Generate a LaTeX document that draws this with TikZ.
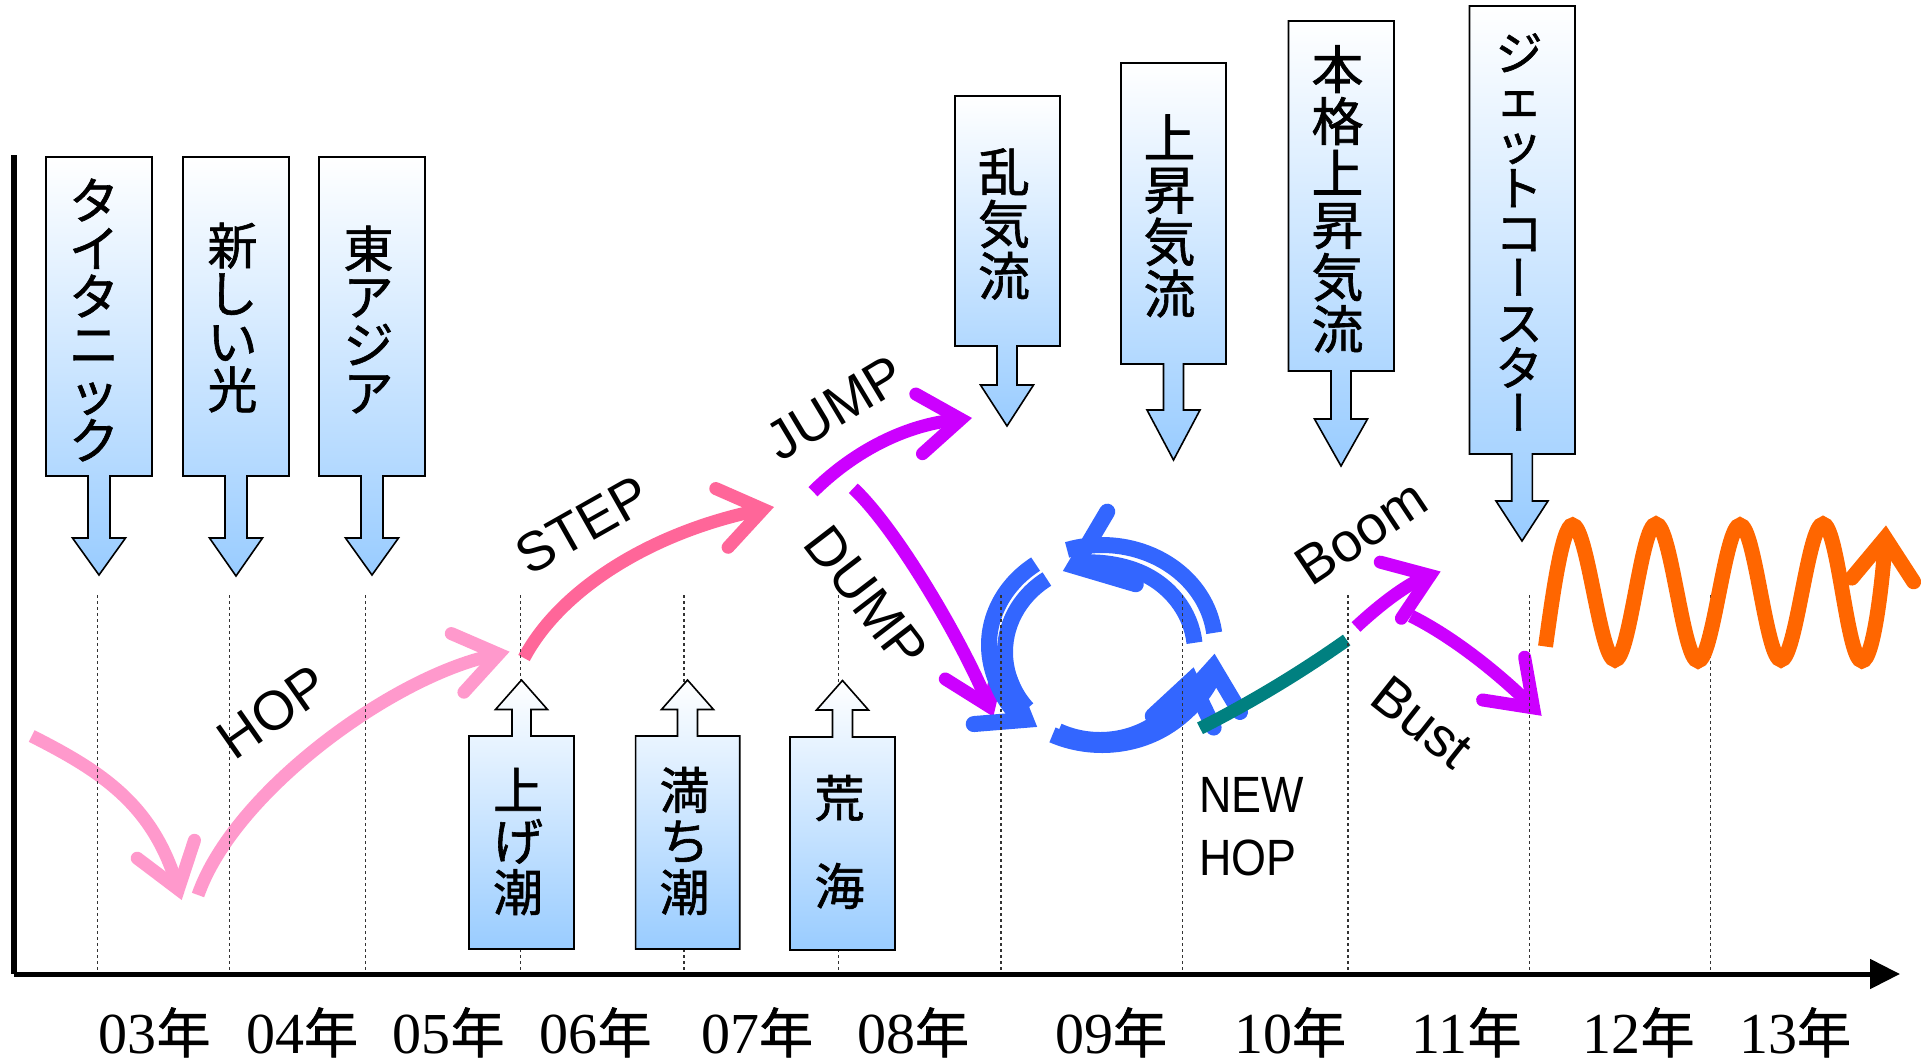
\documentclass[tikz,border=0pt]{standalone}
\usepackage{fontspec}
\setmainfont{Liberation Sans}
\newfontfamily\jp{Noto Sans CJK JP}[FakeBold=1.2]
\newfontfamily\jpv{Noto Sans CJK JP}[RawFeature=+vert,FakeBold=1.2]
\newfontfamily\tms{Liberation Serif}
\newfontfamily\nsans{Liberation Sans}[FakeStretch=0.88]
\newcommand\nenfont{\jp\fontsize{54}{54}\selectfont}
\usetikzlibrary{arrows.meta,calc}
\definecolor{hoppink}{HTML}{FF99CC}
\definecolor{steppink}{HTML}{FF6699}
\definecolor{jumpvio}{HTML}{CC00FF}
\definecolor{cycblue}{HTML}{3366FF}
\definecolor{newteal}{HTML}{008080}
\definecolor{waveor}{HTML}{FF6600}
\definecolor{calblue}{HTML}{99CCFF}
% down callout: x1,x2,ytop,ybox,xtip,halfshaft,yhead,halfhead,ytip
\newcommand\dncall[9]{\path[callout] (#1,#3) -- (#2,#3) -- (#2,#4) -- ({#5+#6},#4) -- ({#5+#6},#7) -- ({#5+#8},#7) -- (#5,#9) -- ({#5-#8},#7) -- ({#5-#6},#7) -- ({#5-#6},#4) -- (#1,#4) -- cycle;}
% up callout: x1,x2,ybox top,ybottom,xtip,halfshaft,yhead,halfhead,ytip
\newcommand\upcall[9]{\path[callout] (#1,#3) -- ({#5-#6},#3) -- ({#5-#6},#7) -- ({#5-#8},#7) -- (#5,#9) -- ({#5+#8},#7) -- ({#5+#6},#7) -- ({#5+#6},#3) -- (#2,#3) -- (#2,#4) -- (#1,#4) -- cycle;}
\begin{document}
\begin{tikzpicture}[x=1pt,y=-1pt,
  callout/.style={draw=black,line width=1.6,top color=white,bottom color=calblue},
  vA/.style={align=center,inner sep=0,font=\jp\fontsize{50}{48}\selectfont},
  vB/.style={align=center,inner sep=0,font=\jp\fontsize{52}{52}\selectfont},
  vC/.style={align=center,inner sep=0,font=\jp\fontsize{47}{45}\selectfont},
  vD/.style={align=center,inner sep=0,font=\jp\fontsize{50}{51}\selectfont},
  lab/.style={inner sep=0,font=\fontsize{55}{55}\selectfont},
  nlab/.style={inner sep=0,font=\nsans\fontsize{51}{51}\selectfont},
  yr/.style={inner sep=0,anchor=base,font=\tms\fontsize{58}{58}\selectfont},
  gridl/.style={draw=black!80,line width=1.2,dash pattern=on 3pt off 3pt},
  thk/.style={line width=13,-{Straight Barb[length=42pt,width=60pt,line cap=round,line join=miter]}},
  cyc/.style={draw=cycblue,line width=16,-{Straight Barb[length=42pt,width=62pt,line cap=round,line join=miter]}},
  cycbig/.style={draw=cycblue,line width=16,-{Straight Barb[length=50pt,width=78pt,line cap=round,line join=miter]}},
  cycplain/.style={draw=cycblue,line width=16},
]
\useasboundingbox (0,0) rectangle (1921,1063);

% axes
\coordinate (ax0) at (13.8,155);
\coordinate (ax1) at (13.8,974);
\coordinate (ax2) at (1900,974);
\draw[line width=5.5] (ax0) -- (ax1);
\draw[line width=5,-{Triangle[length=30pt,width=29pt]}] (ax1) -- (ax2);

% HOP arrows
\coordinate (hd0) at (31.7,736);
\coordinate (hd1) at (181.7,900);
\draw[thk,hoppink] (hd0) .. controls (103,772) and (152,805) .. (hd1);
\coordinate (hu0) at (198,895);
\coordinate (hu1) at (509.6,651.7);
\draw[thk,hoppink] (hu0) .. controls (234,792) and (392,677) .. (hu1);
% STEP
\coordinate (st0) at (524,658);
\coordinate (st1) at (774,507);
\draw[thk,steppink] (st0) .. controls (560,590) and (650,533) .. (st1);
% JUMP
\coordinate (ju0) at (813,491.7);
\coordinate (ju1) at (972,418);
\draw[thk,jumpvio] (ju0) .. controls (850,455) and (900,426) .. (ju1);
% DUMP
\coordinate (du0) at (853.3,488.3);
\coordinate (du1) at (993.3,716.7);
\draw[thk,jumpvio] (du0) .. controls (897,529) and (962.8,642.7) .. (du1);

% circular arrows
\coordinate (co) at (1102,645);
\coordinate (ci) at (1100,652);
\draw[cycplain] ([shift={(-7:113 and 100)}]co) arc[start angle=-7,end angle=-108,x radius=113,y radius=100];
\draw[cyc] ([shift={(-126:113 and 100)}]co) arc[start angle=-126,end angle=-235,x radius=113,y radius=100];
\draw[cyc] ([shift={(116:113 and 100)}]co) arc[start angle=116,end angle=5,x radius=113,y radius=100];
\draw[cycbig] ([shift={(-6:95 and 88)}]ci) arc[start angle=-6,end angle=-113,x radius=95,y radius=88];
\draw[cycplain] ([shift={(-124:95 and 88)}]ci) arc[start angle=-124,end angle=-220,x radius=95,y radius=88];
\draw[cyc] ([shift={(116:95 and 88)}]ci) arc[start angle=116,end angle=10,x radius=95,y radius=88];

% NEW HOP line
\coordinate (nh0) at (1200,728.3);
\coordinate (nh1) at (1346.7,640);
\draw[newteal,line width=13] (nh0) .. controls (1250,703) and (1300,673) .. (nh1);
% Boom / Bust
\coordinate (bo0) at (1356,627);
\coordinate (bo1) at (1440.6,571.5);
\draw[thk,jumpvio] (bo0) .. controls (1385,600) and (1410,583) .. (bo1);
\coordinate (bu0) at (1411,616);
\coordinate (bu1) at (1541.6,715.8);
\draw[thk,jumpvio] (bu0) .. controls (1455,638) and (1500,675) .. (bu1);

% grid lines
\foreach \gx in {97.7,229.3,365.7,520.5,684,838.3,1001,1182.3,1348,1529.7,1710.7}
  \draw[gridl] (\gx,595) -- (\gx,972);

% orange wave
\coordinate (or0) at (1545.5,646.5);
\coordinate (or1) at (1886,525.4);
\draw[waveor,line width=15,-{Straight Barb[length=42pt,width=62pt,line cap=round,line join=miter]}]
  (or0) .. controls (1552,600) and (1562,525) .. (1572.5,525)
  .. controls (1587.5,525) and (1600,660) .. (1615,660)
  .. controls (1630,660) and (1641,524) .. (1656,524)
  .. controls (1671,524) and (1683,661) .. (1698,661)
  .. controls (1713,661) and (1725,525) .. (1740,525)
  .. controls (1755,525) and (1766,660) .. (1781,660)
  .. controls (1796,660) and (1808,524) .. (1823,524)
  .. controls (1838,524) and (1847,661) .. (1862,661)
  .. controls (1874,661) and (1883,575) .. (or1);

% callouts (down)
\dncall{46}{152}{157}{476}{99}{11}{538}{26.5}{575}
\dncall{183}{289}{157}{476}{236}{11}{538}{26.5}{576}
\dncall{319}{425}{157}{476}{372}{11}{538}{26.5}{575}
\dncall{955}{1060}{96}{346}{1007}{10}{385}{26.5}{426}
\dncall{1121}{1226}{63}{364}{1173.5}{10}{410}{26.5}{460}
\dncall{1288.5}{1394}{21}{371}{1341}{10}{419}{26.5}{466}
\dncall{1469.5}{1575}{6}{454}{1522}{10.3}{501}{26}{541}
% callouts (up)
\upcall{469}{574}{736}{949}{521.5}{9.5}{709.5}{26}{680}
\upcall{635.6}{739.7}{736}{949}{687.5}{10}{709.5}{26}{680}
\upcall{790}{895}{737}{950}{842.5}{10}{710}{26}{680.5}

% callout texts
\node[vA] (t1) at (94,320) {タ\\イ\\タ\\ニ\\ッ\\ク};
\node[vA] (t2) at (232.5,317.5) {新\\し\\い\\光};
\node[vA] (t3) at (368.5,319.5) {東\\ア\\ジ\\ア};
\node[vB] (t4) at (1004,224) {乱\\気\\流};
\node[vB] (t5) at (1169.5,216) {上\\昇\\気\\流};
\node[vB] (t6) at (1337.5,199) {本\\格\\上\\昇\\気\\流};
\node[vC] (t7) at (1519,232) {ジ\\ェ\\ッ\\ト\\コ\\{\jpv ー}\\ス\\タ\\{\jpv ー}};
\node[vD] (t8) at (518,841.5) {上\\げ\\潮};
\node[vD] (t9) at (684.5,841) {満\\ち\\潮};
\node[vD] (t10) at (839.5,842) {荒\\[37pt]海};

% labels
\node[lab,rotate=35] (lhop) at (272.5,711.7) {HOP};
\node[lab,rotate=29.5] (lstep) at (583,525) {STEP};
\node[lab,rotate=31] (ljump) at (835,408) {JUMP};
\node[lab,rotate=-52.5] (ldump) at (866,597) {DUMP};
\node[lab,rotate=33.7] (lboom) at (1361,532) {Boom};
\node[lab,rotate=-38.4] (lbust) at (1422,722) {Bust};
\node[nlab,anchor=base west] (lnew) at (1199,812) {NEW};
\node[nlab,anchor=base west] (lnhop) at (1199,875) {HOP};

% years
\node[yr] (y03) at (154.6,1053) {03{\nenfont 年}};
\node[yr] (y04) at (302,1053) {04{\nenfont 年}};
\node[yr] (y05) at (448.6,1053) {05{\nenfont 年}};
\node[yr] (y06) at (595.6,1053) {06{\nenfont 年}};
\node[yr] (y07) at (757,1053) {07{\nenfont 年}};
\node[yr] (y08) at (913,1053) {08{\nenfont 年}};
\node[yr] (y09) at (1111,1053) {09{\nenfont 年}};
\node[yr] (y10) at (1290,1053) {10{\nenfont 年}};
\node[yr] (y11) at (1466.6,1053) {11{\nenfont 年}};
\node[yr] (y12) at (1638.5,1053) {12{\nenfont 年}};
\node[yr] (y13) at (1795,1053) {13{\nenfont 年}};
\end{tikzpicture}
\end{document}
